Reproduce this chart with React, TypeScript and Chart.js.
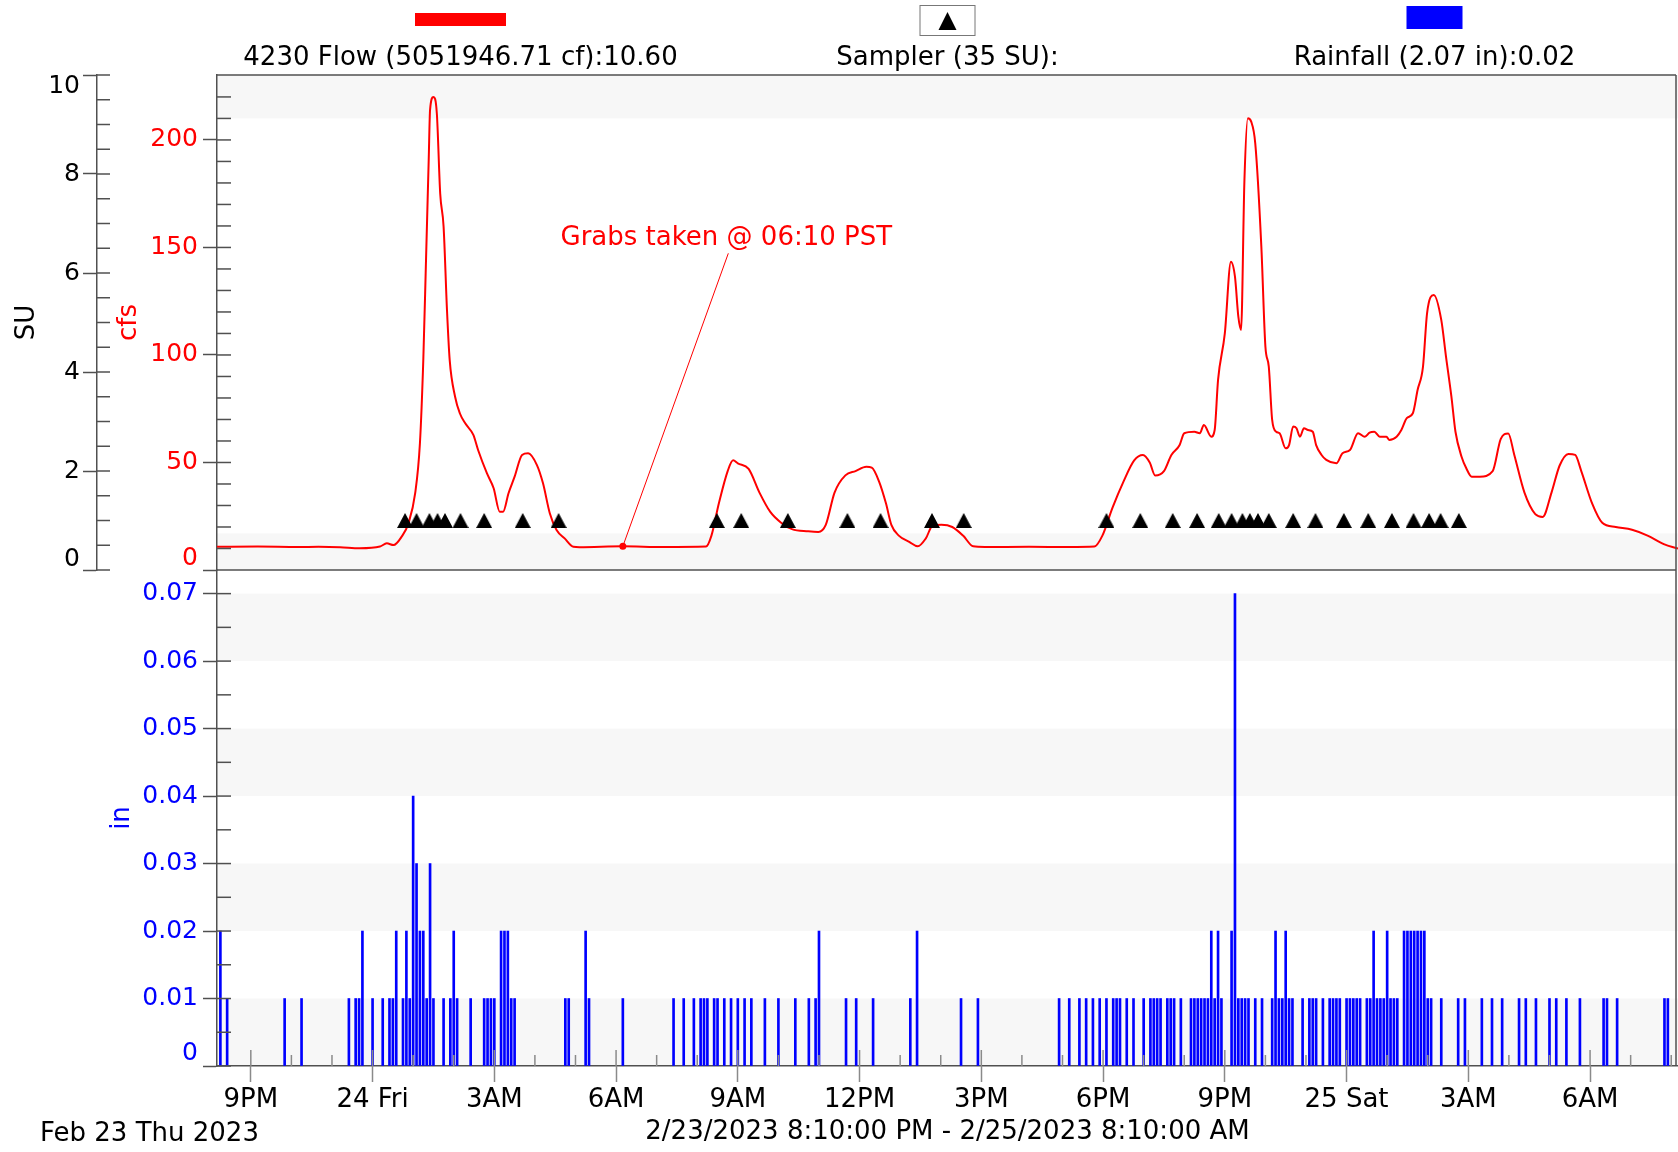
import React, { useEffect, useRef } from 'react';
import { Chart, registerables } from 'chart.js';

Chart.register(...registerables);

const W = 1678;
const H = 1152;
const FONT = '"DejaVu Sans", sans-serif';
const AXIS_COLOR = '#505050';
const BAND_COLOR = '#f7f7f7';

const dateLabel = 'Feb 23 Thu 2023';
const rangeLabel = '2/23/2023 8:10:00 PM - 2/25/2023 8:10:00 AM';
const flowLegend = '4230 Flow (5051946.71 cf):10.60';
const samplerLegend = 'Sampler (35 SU):';
const rainLegend = 'Rainfall (2.07 in):0.02';
const grabLabel = 'Grabs taken @ 06:10 PST';

// time axis: minutes after 2/23/2023 8:10 PM (36 h span)
const spanMinutes = 2160;
const timeTickMinutes = [50, 230, 410, 590, 770, 950, 1130, 1310, 1490, 1670, 1850, 2030];
const timeTickLabels = ['9PM', '24 Fri', '3AM', '6AM', '9AM', '12PM', '3PM', '6PM', '9PM', '25 Sat', '3AM', '6AM'];

const cfsTicks = [0, 50, 100, 150, 200];
const suTicks = [0, 2, 4, 6, 8, 10];
const inchTicks = [0, 0.01, 0.02, 0.03, 0.04, 0.05, 0.06, 0.07];
const cfsMax = 230.2;
const suMax = 10;
const inchMax = 0.0735;

// 4230 Flow (cfs)
const flowMinutes = [
  0, 60, 120, 150, 182, 211, 241, 251, 261, 273, 283, 293, 300, 305, 309, 313, 315, 320, 325, 330,
  335, 340, 344, 352, 359, 367, 379, 386, 399, 409, 418, 423, 431, 440, 451, 460, 473, 482, 492, 502,
  514, 527, 536, 600, 660, 723, 731, 742, 755, 763, 770, 786, 802, 818, 834, 850, 874, 889, 900, 913,
  929, 944, 960, 968, 979, 989, 997, 1008, 1024, 1036, 1048, 1058, 1071, 1087, 1103, 1118, 1135, 1200, 1260, 1297,
  1309, 1324, 1340, 1356, 1369, 1379, 1387, 1400, 1411, 1423, 1430, 1445, 1453, 1459, 1470, 1475, 1480, 1490, 1499, 1505,
  1510, 1514, 1519, 1524, 1529, 1535, 1544, 1550, 1555, 1560, 1566, 1571, 1580, 1585, 1591, 1596, 1601, 1607, 1613, 1620,
  1625, 1633, 1640, 1655, 1664, 1675, 1687, 1697, 1704, 1711, 1719, 1729, 1733, 1744, 1751, 1759, 1768, 1775, 1783, 1789,
  1799, 1810, 1817, 1825, 1831, 1840, 1847, 1855, 1867, 1886, 1898, 1909, 1918, 1933, 1949, 1960, 1973, 1985, 1998, 2008,
  2017, 2033, 2048, 2068, 2092, 2115, 2139, 2160,
];
const flowCfs = [
  10.8, 10.9, 10.7, 10.8, 10.6, 10.1, 10.9, 12.4, 11.6, 15.5, 21.7, 35.7, 58.9, 97.7, 144, 190.7, 214, 220, 212.4, 175,
  159.7, 121, 97.7, 80.6, 72.9, 68.2, 62.8, 55.8, 45, 38, 27.1, 27.1, 35.7, 43.4, 53.5, 54.3, 48.8, 40.3, 26.4, 18.6,
  14.7, 10.8, 10.6, 11.0, 10.7, 10.9, 16, 31, 46, 51, 49.6, 47, 36, 27, 22, 19, 18, 17.7, 21, 36,
  44, 46, 48, 47.6, 41, 31, 21, 16, 13, 11, 14.7, 20.7, 21, 20, 16, 11, 10.7, 10.8, 10.7, 10.9,
  16, 29, 41, 51, 53.5, 50, 44, 46, 53.5, 58, 63.6, 64.3, 63.6, 67.4, 62, 65.1, 88.4, 110, 143.4, 136.4,
  117.8, 111.6, 181.4, 210.1, 208.5, 198.4, 150.4, 103.9, 94.6, 69.8, 64.3, 63.6, 56.6, 58.1, 66.7, 65.9, 62, 65.9, 65.1, 64.3,
  58.1, 53.5, 51.2, 49.6, 54.3, 55.8, 63.6, 62, 63.9, 64.3, 62, 62, 60.5, 62, 65.1, 70.6, 72.9, 83.7, 94.6, 119.4,
  127.9, 116.3, 99.2, 80.6, 64.3, 52.7, 47.3, 43.4, 43.4, 46, 61, 63.5, 53.5, 36, 26, 24.7, 36, 48.6, 54, 53.5,
  46, 31, 22, 20, 18.7, 16, 12, 10,
];

// Sampler events (SU)
const samplerMinutes = [
  278, 295, 314, 326, 337, 360, 395, 452, 505, 739, 775, 844, 932, 981, 1057, 1104, 1315, 1365, 1413, 1449,
  1481, 1500, 1516, 1527, 1539, 1555, 1591, 1624, 1666, 1702, 1737, 1769, 1792, 1809, 1836,
];
const samplerSU = [
  1, 1, 1, 1, 1, 1, 1, 1, 1, 1, 1, 1, 1, 1, 1, 1, 1, 1, 1, 1,
  1, 1, 1, 1, 1, 1, 1, 1, 1, 1, 1, 1, 1, 1, 1,
];

// Rainfall (in), 5-minute totals
const rainMinutes = [
  5, 15, 100, 125, 195, 205, 210, 215, 230, 245, 255, 260, 265, 275, 280, 285, 290, 295, 300, 305,
  310, 315, 320, 335, 345, 350, 355, 375, 395, 400, 405, 410, 420, 425, 430, 435, 440, 515, 520,
  545, 550, 600, 675, 690, 705, 715, 720, 725, 735, 740, 750, 760, 770, 780, 790, 810, 830, 855, 875,
  885, 890, 930, 945, 970, 1025, 1035,
  1100, 1125, 1245, 1260, 1275, 1285, 1295, 1305, 1315, 1325, 1330, 1335, 1345, 1355, 1370, 1380, 1385, 1390, 1395, 1405,
  1410, 1415, 1425, 1440, 1445, 1450, 1455, 1460, 1465, 1470, 1475, 1480, 1485, 1500, 1505, 1510, 1515, 1520, 1525, 1535,
  1545, 1560, 1565, 1570, 1575, 1580, 1585, 1590, 1605, 1615,
  1620, 1625, 1635, 1645, 1650, 1655, 1660, 1670, 1675, 1680, 1685, 1690, 1700, 1705, 1710, 1715, 1720, 1725, 1730, 1735,
  1740, 1745, 1755, 1760, 1765, 1770, 1775, 1780, 1785, 1790, 1795, 1810, 1835, 1845, 1870, 1885, 1900, 1925, 1935, 1950,
  1970, 1980, 1995, 2015, 2050, 2055, 2070, 2140, 2145,
];
const rainInches = [
  0.02, 0.01, 0.01, 0.01, 0.01, 0.01, 0.01, 0.02, 0.01, 0.01, 0.01, 0.01, 0.02, 0.01, 0.02, 0.01, 0.04, 0.03, 0.02, 0.02,
  0.01, 0.03, 0.01, 0.01, 0.01, 0.02, 0.01, 0.01, 0.01, 0.01, 0.01, 0.01, 0.02, 0.02, 0.02, 0.01, 0.01, 0.01, 0.01,
  0.02, 0.01, 0.01, 0.01, 0.01, 0.01, 0.01, 0.01, 0.01, 0.01, 0.01, 0.01, 0.01, 0.01, 0.01, 0.01, 0.01, 0.01, 0.01, 0.01,
  0.01, 0.02, 0.01, 0.01, 0.01, 0.01, 0.02,
  0.01, 0.01, 0.01, 0.01, 0.01, 0.01, 0.01, 0.01, 0.01, 0.01, 0.01, 0.01, 0.01, 0.01, 0.01, 0.01, 0.01, 0.01, 0.01, 0.01,
  0.01, 0.01, 0.01, 0.01, 0.01, 0.01, 0.01, 0.01, 0.01, 0.02, 0.01, 0.02, 0.01, 0.02, 0.07, 0.01, 0.01, 0.01, 0.01, 0.01,
  0.01, 0.01, 0.02, 0.01, 0.01, 0.02, 0.01, 0.01, 0.01, 0.01,
  0.01, 0.01, 0.01, 0.01, 0.01, 0.01, 0.01, 0.01, 0.01, 0.01, 0.01, 0.01, 0.01, 0.01, 0.02, 0.01, 0.01, 0.01, 0.02, 0.01,
  0.01, 0.01, 0.02, 0.02, 0.02, 0.02, 0.02, 0.02, 0.02, 0.01, 0.01, 0.01, 0.01, 0.01, 0.01, 0.01, 0.01, 0.01, 0.01, 0.01,
  0.01, 0.01, 0.01, 0.01, 0.01, 0.01, 0.01, 0.01, 0.01,
];

// annotation
const grabMinute = 600;
const grabCfs = 11.0;
const grabLabelMinute = 753;
const grabLabelCfs = 151;

// background band limits
const topBandsCfs = [[0, 17], [210, 230.2]];
const rainBands = [[0, 0.01], [0.02, 0.03], [0.04, 0.05], [0.06, 0.07]];

function seg(ctx: CanvasRenderingContext2D, x1: number, y1: number, x2: number, y2: number) {
  ctx.beginPath();
  ctx.moveTo(x1, y1);
  ctx.lineTo(x2, y2);
  ctx.stroke();
}

function makeTriangle(w: number, h: number) {
  const c = document.createElement('canvas');
  c.width = w;
  c.height = h;
  const g = c.getContext('2d')!;
  g.fillStyle = '#000';
  g.beginPath();
  g.moveTo(w / 2, 0);
  g.lineTo(w, h);
  g.lineTo(0, h);
  g.closePath();
  g.fill();
  return c;
}

const topPlugin = {
  id: 'topDecor',
  beforeDraw(chart: any) {
    const { ctx, chartArea: a, scales } = chart;
    const cfs = scales.cfs;
    ctx.save();
    ctx.fillStyle = '#fff';
    ctx.fillRect(a.left, a.top, a.right - a.left, a.bottom - a.top);
    ctx.fillStyle = BAND_COLOR;
    for (const [lo, hi] of topBandsCfs) {
      const y1 = cfs.getPixelForValue(hi);
      const y2 = cfs.getPixelForValue(lo);
      ctx.fillRect(a.left, y1, a.right - a.left, y2 - y1);
    }
    ctx.restore();
  },
  afterDraw(chart: any) {
    const { ctx, chartArea: a, scales } = chart;
    const cfs = scales.cfs;
    const su = scales.su;
    const x = scales.x;
    ctx.save();
    ctx.strokeStyle = AXIS_COLOR;
    ctx.lineWidth = 1.5;
    // inner ticks of cfs axis
    for (let v = 10; v <= 220; v += 10) {
      const y = cfs.getPixelForValue(v);
      seg(ctx, a.left, y, a.left + 14, y);
    }
    // right-side ticks of SU axis
    for (let v = 0; v <= 10; v += 0.5) {
      const y = su.getPixelForValue(v);
      seg(ctx, su.right, y, su.right + 13, y);
    }
    // frame
    const rx = a.right - 2;
    seg(ctx, a.left, a.top, rx, a.top);
    seg(ctx, rx, a.top, rx, a.bottom);
    seg(ctx, a.left, a.bottom, rx, a.bottom);

    // legend
    const third = (a.right - a.left) / 3;
    const cx = [0, 1, 2].map((i) => a.left + third * (i + 0.5));
    ctx.fillStyle = '#ff0000';
    ctx.fillRect(cx[0] - 45.5, 13, 91, 13);
    ctx.fillStyle = '#0000ff';
    ctx.fillRect(cx[2] - 28, 6, 56, 23);
    ctx.fillStyle = '#fff';
    ctx.fillRect(cx[1] - 27, 5, 55, 30);
    ctx.strokeStyle = '#777';
    ctx.lineWidth = 1;
    ctx.strokeRect(cx[1] - 27.5, 5.5, 55, 30);
    ctx.fillStyle = '#000';
    ctx.beginPath();
    ctx.moveTo(cx[1], 12);
    ctx.lineTo(cx[1] + 9, 30);
    ctx.lineTo(cx[1] - 9, 30);
    ctx.closePath();
    ctx.fill();
    ctx.font = `26px ${FONT}`;
    ctx.textAlign = 'center';
    ctx.textBaseline = 'alphabetic';
    ctx.fillStyle = '#000';
    ctx.fillText(flowLegend, cx[0], 65);
    ctx.fillText(samplerLegend, cx[1], 65);
    ctx.fillText(rainLegend, cx[2], 65);

    // annotation
    const px = x.getPixelForValue(grabMinute);
    const py = cfs.getPixelForValue(grabCfs);
    const tx = x.getPixelForValue(grabLabelMinute);
    const ty = cfs.getPixelForValue(grabLabelCfs);
    ctx.fillStyle = '#ff0000';
    ctx.strokeStyle = '#ff0000';
    ctx.lineWidth = 1;
    ctx.fillText(grabLabel, tx, ty);
    seg(ctx, tx + 2, ty + 8, px, py);
    ctx.beginPath();
    ctx.arc(px, py, 3.5, 0, Math.PI * 2);
    ctx.fill();
    ctx.restore();
  },
};

const bottomPlugin = {
  id: 'bottomDecor',
  beforeDraw(chart: any) {
    const { ctx, chartArea: a, scales } = chart;
    const s = scales.inch;
    ctx.save();
    ctx.fillStyle = BAND_COLOR;
    for (const [lo, hi] of rainBands) {
      const y1 = s.getPixelForValue(hi);
      const y2 = s.getPixelForValue(lo);
      ctx.fillRect(a.left, y1, a.right - a.left, y2 - y1);
    }
    ctx.restore();
  },
  afterDraw(chart: any) {
    const { ctx, chartArea: a, scales } = chart;
    const s = scales.inch;
    const x = scales.x;
    ctx.save();
    ctx.strokeStyle = AXIS_COLOR;
    ctx.lineWidth = 1.5;
    for (let i = 0; i <= 14; i++) {
      const y = s.getPixelForValue(i * 0.005);
      seg(ctx, a.left, y, a.left + 14, y);
    }
    const rx = a.right - 2;
    seg(ctx, rx, a.top, rx, a.bottom);
    // hourly ticks pointing up from the time axis
    ctx.strokeStyle = '#8a8a8a';
    for (let m = 50; m <= spanMinutes; m += 60) {
      const xp = x.getPixelForValue(m);
      const len = timeTickMinutes.includes(m) ? 16 : 11;
      seg(ctx, xp, a.bottom, xp, a.bottom - len);
    }
    ctx.fillStyle = '#000';
    ctx.font = `26px ${FONT}`;
    ctx.textAlign = 'left';
    ctx.textBaseline = 'alphabetic';
    ctx.fillText(dateLabel, 40, 1141);
    ctx.restore();
  },
};

export default function App() {
  const topRef = useRef<HTMLCanvasElement>(null);
  const botRef = useRef<HTMLCanvasElement>(null);

  useEffect(() => {
    const tri = makeTriangle(16, 15);
    const flowData = flowMinutes.map((m, i) => ({ x: m, y: flowCfs[i] }));
    const samplerData = samplerMinutes.map((m, i) => ({ x: m, y: samplerSU[i] }));
    const rainData = rainMinutes.map((m, i) => ({ x: m, y: rainInches[i] }));

    const common = {
      responsive: false,
      animation: false as const,
      devicePixelRatio: 1,
      events: [] as any[],
    };

    const top = new Chart(topRef.current!, {
      type: 'line',
      data: {
        datasets: [
          {
            label: 'Sampler',
            data: samplerData,
            xAxisID: 'x',
            yAxisID: 'su',
            showLine: false,
            pointStyle: tri as any,
            pointRadius: 8,
            borderColor: '#000',
            backgroundColor: '#000',
          },
          {
            label: '4230 Flow',
            data: flowData,
            xAxisID: 'x',
            yAxisID: 'cfs',
            borderColor: '#ff0000',
            borderWidth: 2,
            pointRadius: 0,
            cubicInterpolationMode: 'monotone',
            fill: false,
          },
        ],
      },
      options: {
        ...common,
        layout: { autoPadding: false, padding: { top: 75, left: 1, right: 0, bottom: H - 570 } },
        plugins: { legend: { display: false }, tooltip: { enabled: false }, title: { display: false } },
        scales: {
          x: { type: 'linear', min: 0, max: spanMinutes, display: false },
          cfs: {
            type: 'linear',
            position: 'left',
            weight: 0,
            min: 0,
            max: cfsMax,
            afterFit: (s: any) => { s.width = 120; },
            afterBuildTicks: (s: any) => { s.ticks = cfsTicks.map((v) => ({ value: v })); },
            ticks: {
              color: '#ff0000',
              padding: 5,
              font: { family: FONT, size: 25, lineHeight: '24px' },
              callback: (v: any) => (v === 0 ? ['0', ''] : String(v)),
            },
            grid: { display: true, drawOnChartArea: false, drawTicks: true, tickLength: 14, tickColor: AXIS_COLOR, tickWidth: 1.5 },
            border: { display: true, color: AXIS_COLOR, width: 1.5 },
            title: { display: true, text: 'cfs', color: '#ff0000', font: { family: FONT, size: 26 }, padding: { top: 17, bottom: 0 } },
          },
          su: {
            type: 'linear',
            position: 'left',
            weight: 5,
            min: 0,
            max: suMax,
            afterFit: (s: any) => { s.width = 96; },
            afterBuildTicks: (s: any) => { s.ticks = suTicks.map((v) => ({ value: v })); },
            ticks: {
              color: '#000',
              padding: 3,
              font: { family: FONT, size: 25, lineHeight: '22px' },
              callback: (v: any) => (v === 0 ? ['0', ''] : v === 10 ? ['', '10'] : String(v)),
            },
            grid: { display: true, drawOnChartArea: false, drawTicks: true, tickLength: 14, tickColor: AXIS_COLOR, tickWidth: 1.5 },
            border: { display: true, color: AXIS_COLOR, width: 1.5 },
            title: { display: true, text: 'SU', color: '#000', font: { family: FONT, size: 26 }, padding: { top: 11, bottom: 0 } },
          },
        },
      } as any,
      plugins: [topPlugin],
    });

    const bottom = new Chart(botRef.current!, {
      type: 'bar',
      data: {
        datasets: [
          {
            label: 'Rainfall',
            data: rainData,
            xAxisID: 'x',
            yAxisID: 'inch',
            backgroundColor: '#0000ff',
            borderWidth: 0,
            barThickness: 2,
          },
        ],
      },
      options: {
        ...common,
        layout: { autoPadding: false, padding: { top: 570, left: 0, right: 0, bottom: 0 } },
        plugins: { legend: { display: false }, tooltip: { enabled: false }, title: { display: false } },
        scales: {
          x: {
            type: 'linear',
            position: 'bottom',
            min: 0,
            max: spanMinutes,
            offset: false,
            afterFit: (s: any) => { s.height = H - 1066; },
            afterBuildTicks: (s: any) => { s.ticks = timeTickMinutes.map((v) => ({ value: v })); },
            ticks: {
              color: '#000',
              padding: 5,
              autoSkip: false,
              maxRotation: 0,
              font: { family: FONT, size: 26, lineHeight: '26px' },
              callback: (v: any) => {
                const i = timeTickMinutes.indexOf(v);
                return i >= 0 ? timeTickLabels[i] : '';
              },
            },
            grid: { display: true, offset: false, drawOnChartArea: false, drawTicks: true, tickLength: 16, tickColor: '#8a8a8a', tickWidth: 1.5 },
            border: { display: true, color: AXIS_COLOR, width: 1.5 },
            title: { display: true, text: rangeLabel, color: '#000', font: { family: FONT, size: 26, lineHeight: '26px' }, padding: { top: 0, bottom: 7 } },
          },
          inch: {
            type: 'linear',
            position: 'left',
            min: 0,
            max: inchMax,
            afterFit: (s: any) => { s.width = 217; },
            afterBuildTicks: (s: any) => { s.ticks = inchTicks.map((v) => ({ value: v })); },
            ticks: {
              color: '#0000ff',
              padding: 5,
              font: { family: FONT, size: 25, lineHeight: '26px' },
              callback: (v: any) => (v === 0 ? ['0', ''] : Number(v).toFixed(2)),
            },
            grid: { display: true, drawOnChartArea: false, drawTicks: true, tickLength: 14, tickColor: AXIS_COLOR, tickWidth: 1.5 },
            border: { display: true, color: AXIS_COLOR, width: 1.5 },
            title: { display: true, text: 'in', color: '#0000ff', font: { family: FONT, size: 26 }, padding: { top: 107, bottom: 0 } },
          },
        },
      } as any,
      plugins: [bottomPlugin],
    });

    return () => {
      top.destroy();
      bottom.destroy();
    };
  }, []);

  const cv: React.CSSProperties = { position: 'absolute', left: 0, top: 0, width: W, height: H };
  return (
    <div style={{ position: 'absolute', left: 0, top: 0, width: W, height: H, background: '#fff', overflow: 'hidden' }}>
      <canvas ref={topRef} width={W} height={H} style={cv} />
      <canvas ref={botRef} width={W} height={H} style={cv} />
    </div>
  );
}
